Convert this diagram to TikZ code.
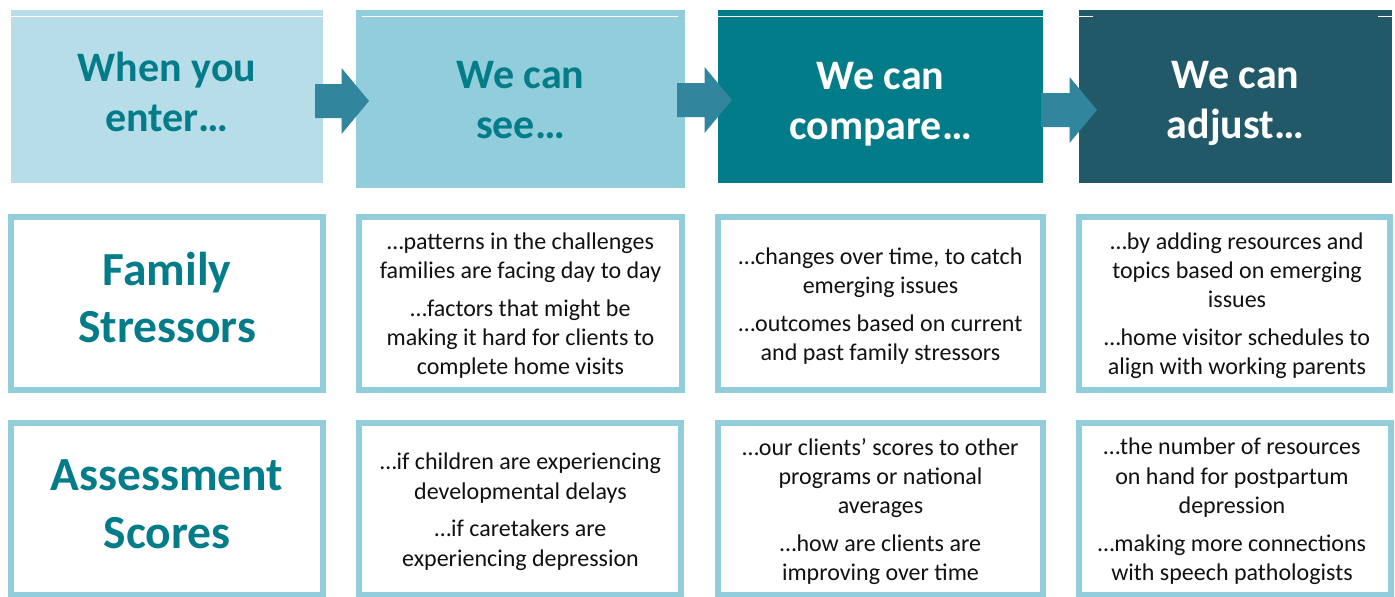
\documentclass[tikz,border=0pt]{standalone}
\usepackage{fontspec}
\setmainfont{Carlito}
\usetikzlibrary{calc}
\definecolor{hA}{HTML}{B7DDE8}
\definecolor{hB}{HTML}{92CDDC}
\definecolor{hC}{HTML}{037C89}
\definecolor{hD}{HTML}{215968}
\definecolor{arrc}{HTML}{31859C}
\definecolor{tealtxt}{HTML}{037C89}
\definecolor{framec}{HTML}{92CDDC}
\definecolor{bodyc}{HTML}{111111}
\newcommand{\blockarr}[2]{%
  \fill[blockarrow] ($(#1)+(0,-17)$) -- ($(#2)+(-27.5,-17)$) -- ($(#2)+(-27.5,-33)$) -- (#2)
    -- ($(#2)+(-27.5,33)$) -- ($(#2)+(-27.5,17)$) -- ($(#1)+(0,17)$) -- cycle;}
\begin{document}
\begin{tikzpicture}[x=1pt,y=-1pt,
  hdrbox/.style={rectangle, draw=none, inner sep=0pt, outer sep=0pt},
  hdrtext/.style={font=\fontsize{42}{50}\selectfont\bfseries, align=center, inner sep=0pt},
  cell/.style={rectangle, draw=framec, line width=6pt, fill=white, inner sep=0pt, outer sep=0pt},
  sidetext/.style={font=\fontsize{47.5}{57.5}\selectfont\bfseries, text=tealtxt, align=center, inner sep=0pt},
  bodytext/.style={font=\fontsize{24}{29.3}\selectfont, text=bodyc, align=center, inner sep=0pt},
  blockarrow/.style={fill=arrc},
  seam/.style={draw=white, line width=0.8pt}
]
\fill[white] (0,0) rectangle (1395,597);
\useasboundingbox (0,0) rectangle (1395,597);

% header boxes
\node[hdrbox, fill=hA, minimum width=312pt, minimum height=173pt] (h1) at (167,96.5) {};
\node[hdrbox, fill=hB, minimum width=329pt, minimum height=178pt] (h2) at (520.5,99) {};
\node[hdrbox, fill=hC, minimum width=325pt, minimum height=173pt] (h3) at (880.5,96.5) {};
\node[hdrbox, fill=hD, minimum width=313pt, minimum height=173pt] (h4) at (1235.5,96.5) {};

% thin seams near the top edge
\draw[seam] ($(h1.north west)+(0,6)$) -- ($(h1.north east)+(0,6)$);
\draw[seam] ($(h2.north west)+(6,6)$) -- ($(h2.north east)+(-7,6)$);
\draw[seam] ($(h3.north west)+(0,6)$) -- ($(h3.north east)+(0,6)$);
\draw[seam] ($(h4.north west)+(0,6)$) -- ($(h4.north west)+(14,6)$);
\draw[seam] ($(h4.north east)+(-14,6)$) -- ($(h4.north east)+(0,6)$);

% arrows between header boxes
\coordinate (a1s) at ($(h1.east)+(-8,4.5)$);
\coordinate (a1e) at ($(h2.west)+(13,2)$);
\coordinate (a2s) at ($(h2.east)+(-8,1)$);
\coordinate (a2e) at ($(h3.west)+(14,3.5)$);
\coordinate (a3s) at ($(h3.east)+(-2,13.5)$);
\coordinate (a3e) at ($(h4.west)+(18,13.5)$);
\blockarr{a1s}{a1e}
\blockarr{a2s}{a2e}
\blockarr{a3s}{a3e}

% header texts
\node[hdrtext, text=tealtxt] (t1) at (167,91.5) {When you\\enter…};
\node[hdrtext, text=tealtxt] (t2) at (520.5,100) {We can\\see…};
\node[hdrtext, text=white] (t3) at (880.5,103.8) {We can\\compare…};
\node[hdrtext, text=white] (t4) at (1235.5,103.8) {We can\\adjust…};

% row 2 cells
\node[cell, minimum width=312pt, minimum height=173pt] (c21) at (167,303.5) {};
\node[cell, minimum width=323pt, minimum height=173pt] (c22) at (520.5,303.5) {};
\node[cell, minimum width=325pt, minimum height=173pt] (c23) at (880.5,303.5) {};
\node[cell, minimum width=311pt, minimum height=173pt] (c24) at (1234.5,303.5) {};
% row 3 cells
\node[cell, minimum width=312pt, minimum height=172pt] (c31) at (167,509) {};
\node[cell, minimum width=322pt, minimum height=172pt] (c32) at (520,509) {};
\node[cell, minimum width=325pt, minimum height=172pt] (c33) at (880.5,509) {};
\node[cell, minimum width=312pt, minimum height=172pt] (c34) at (1235,509) {};

% row headings
\node[sidetext] (s2) at (167,297.5) {Family\\Stressors};
\node[sidetext] (s3) at (167,504.2) {Assessment\\Scores};

% body texts
\node[bodytext] (b22) at (520.5,305.5) {…patterns in the challenges\\families are facing day to day\\[8.5pt]…factors that might be\\making it hard for clients to\\complete home visits};
\node[bodytext] (b23) at (880.5,305.8) {…changes over time, to catch\\emerging issues\\[8.5pt]…outcomes based on current\\and past family stressors};
\node[bodytext] (b24) at (1237,305.8) {…by adding resources and\\topics based on emerging\\issues\\[8.5pt]…home visitor schedules to\\align with working parents};
\node[bodytext] (b32) at (520.5,511.8) {…if children are experiencing\\developmental delays\\[8.5pt]…if caretakers are\\experiencing depression};
\node[bodytext] (b33) at (880.5,511.5) {…our clients’ scores to other\\programs or national\\averages\\[8.5pt]…how are clients are\\improving over time};
\node[bodytext] (b34) at (1232,511.5) {…the number of resources\\on hand for postpartum\\depression\\[8.5pt]…making more connections\\with speech pathologists};
\end{tikzpicture}
\end{document}
